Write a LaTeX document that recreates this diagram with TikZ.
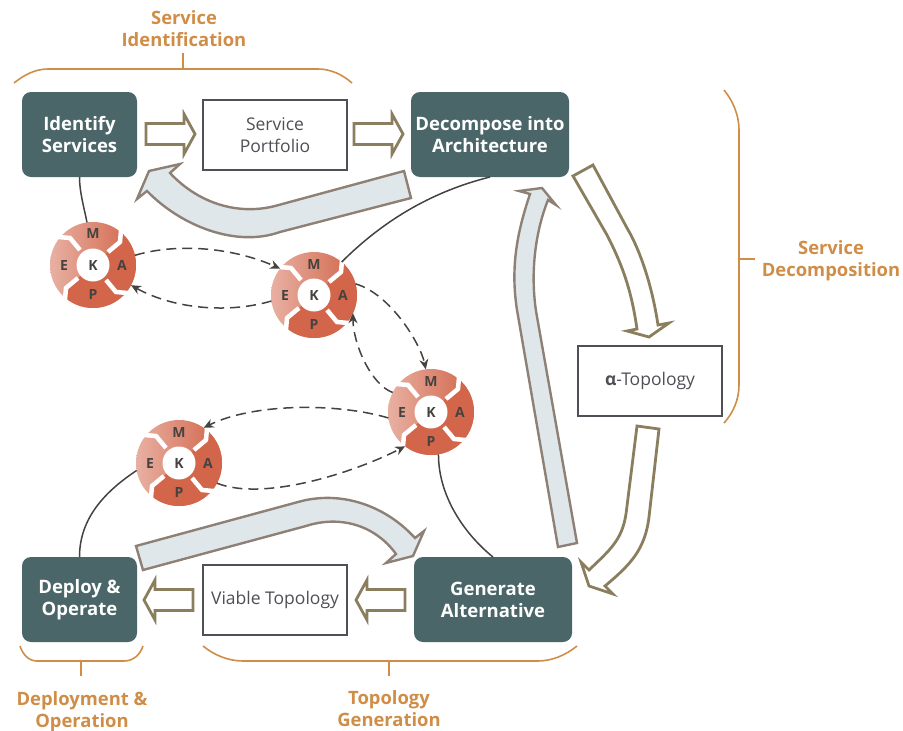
\documentclass[tikz,border=0pt]{standalone}
\usepackage{fontspec}
\setmainfont{Open Sans}
\definecolor{stepteal}{HTML}{4A6668}
\definecolor{bracketorange}{HTML}{D08D47}
\definecolor{arrowolive}{HTML}{8A7E5E}
\definecolor{arrowtaupe}{HTML}{8F8076}
\definecolor{arrowpale}{HTML}{E0E7EB}
\definecolor{loopred}{HTML}{D2654A}
\definecolor{looppink}{HTML}{E8B0A2}
\definecolor{inkdark}{HTML}{46423F}
\definecolor{inkgrey}{HTML}{4F5055}
\tikzset{
	stepbox/.style={fill=stepteal, rounded corners=9pt, minimum height=85, outer sep=0, inner sep=0, align=center, text=white, font=\fontsize{18.5}{22}\selectfont\bfseries},
	docbox/.style={draw=inkgrey, fill=white, line width=1.2pt, minimum width=144, minimum height=70, outer sep=0, inner sep=0, align=center, text=inkgrey, font=\fontsize{17.5}{22}\selectfont},
	phasetext/.style={text=bracketorange, align=center, inner sep=0, font=\fontsize{18.4}{22}\selectfont\bfseries},
	bracket/.style={draw=bracketorange, line width=1.6pt},
	hollow/.style={draw=arrowolive, fill=white, line width=2.8pt, line join=miter},
	pale/.style={draw=arrowtaupe, fill=arrowpale, line width=2.4pt, line join=miter},
	link/.style={draw=inkdark, line width=1.5pt},
	flow/.style={draw=inkdark, line width=1.5pt, dash pattern=on 10pt off 6pt, -{Stealth[length=10pt,width=9pt]}},
	loopdisc/.style={circle, minimum size=86, inner sep=0, outer sep=0, left color=looppink, right color=loopred},
	loopgap/.style={draw=white, line width=4.5pt},
	loopcore/.style={circle, fill=white, minimum size=33, inner sep=0, text=inkdark, font=\fontsize{14}{14}\selectfont\bfseries},
	loopletter/.style={inner sep=0, text=inkdark, font=\fontsize{14}{14}\selectfont\bfseries}
}
% one control loop, named #1, centred at (#2,#3)
\newcommand{\mapek}[3]{
	\node[loopdisc] (#1) at (#2,#3) {};
	\begin{scope}[shift={(#2,#3)}]
		\begin{scope}
			\clip (0,0) circle (43);
			\fill[loopred] (0,0) -- (15,-13) -- (27,-23) -- (29,-46) -- (60,-46) -- (60,60) -- (-29,60) -- (-29,46) -- (-27,23) -- (-15,13) -- cycle;
		\end{scope}
		\foreach \r in {0,90,180,270}
			\draw[loopgap, rotate=\r] (15,-13) -- (27,-23) -- (29,-46);
		\node[loopcore] (#1k) at (0,0) {K};
		\node[loopletter] (#1m) at (0,-31) {M};
		\node[loopletter] (#1e) at (-29,0) {E};
		\node[loopletter] (#1a) at (29,0) {A};
		\node[loopletter] (#1p) at (0,29) {P};
	\end{scope}
}
\usetikzlibrary{arrows.meta}

\begin{document}
\begin{tikzpicture}[x=1pt, y=-1pt]

	\useasboundingbox (0,0) rectangle (903,731);

	% steps and documents
	\node[stepbox, minimum width=115] (identify) at (79.5,134.5) {Identify\\Services};
	\node[stepbox, minimum width=158] (decompose) at (490,134.5) {Decompose into\\Architecture};
	\node[stepbox, minimum width=115] (deploy) at (79.5,599.5) {Deploy \&\\Operate};
	\node[stepbox, minimum width=158] (generate) at (493,599.5) {Generate\\Alternative};
	\node[docbox] (portfolio) at (275,135) {Service\\Portfolio};
	\node[docbox] (alpha) at (650,381) {{\bfseries α}-Topology};
	\node[docbox] (viable) at (275,600) {Viable Topology};

	% phases
	\draw[bracket] (14,83) .. controls (24,75) and (35,69) .. (48,69) -- (318,69) .. controls (331,69) and (343,75) .. (352,83);
	\draw[bracket] (183,53) -- (183,69);
	\node[phasetext] (phaseid) at (184,29) {Service\\Identification};
	\draw[bracket] (724,90) .. controls (733,101) and (739,115) .. (739,130) -- (739,385) .. controls (739,400) and (733,413) .. (724,423);
	\draw[bracket] (739,259) -- (755,259);
	\node[phasetext] (phasedec) at (831,261) {Service\\Decomposition};
	\draw[bracket] (20,646) .. controls (23,655) and (29,661) .. (37,661) -- (124,661) .. controls (133,661) and (140,655) .. (143,646);
	\draw[bracket] (81,661) -- (81,676);
	\node[phasetext] (phasedep) at (82,712) {Deployment \&\\Operation};
	\draw[bracket] (203,646) .. controls (214,655) and (228,661) .. (243,661) -- (538,661) .. controls (552,661) and (566,655) .. (577,646);
	\draw[bracket] (389,661) -- (389,676);
	\node[phasetext] (phasegen) at (389,709) {Topology\\Generation};

	% straight arrows
	\foreach \x/\y/\d in {146/134/1, 354/134/1, 193/600/-1, 405/600/-1}
		\draw[hollow, shift={(\x,\y)}, xscale=\d] (0,-10.5) -- (38,-10.5) -- (38,-20) -- (49,0) -- (38,20) -- (38,10.5) -- (0,10.5) -- cycle;

	% curved arrows
	\draw[pale] (404,171) -- (275,206) .. controls (240,215) and (200,205) .. (170,173) -- (180,164) -- (149,171) -- (137,199) -- (147,191) .. controls (180,225) and (235,248) .. (280,232) -- (411,198) -- cycle;
	\draw[pale] (558,547) -- (517,310) .. controls (510,265) and (518,230) .. (530,194) -- (519,191) -- (542,188) -- (556,205) -- (548,200) .. controls (536,230) and (530,270) .. (536,311) -- (577,543) -- cycle;
	\draw[pale] (136,546) -- (298,502) .. controls (340,490) and (385,505) .. (415,538) -- (424,531) -- (413,556) -- (386,563) -- (396,554) .. controls (375,525) and (340,515) .. (306,526) -- (143,570) -- cycle;
	\draw[hollow] (573,176) -- (593,165) -- (627,228) .. controls (640,250) and (652,285) .. (658,325) -- (669,323) -- (649,337) -- (627,331) -- (637,329) .. controls (632,295) and (625,270) .. (607,235) -- cycle;
	\draw[hollow] (637,426) -- (659,429) -- (649,517) .. controls (645,550) and (630,565) .. (605,586) -- (613,594) -- (589,586) -- (581,562) -- (589,570) .. controls (610,550) and (622,540) .. (626,514) -- cycle;

	% control loops
	\mapek{loopa}{93}{265}
	\mapek{loopb}{314}{295}
	\mapek{loopc}{431}{412}
	\mapek{loopd}{179}{463}

	% links from the steps to the loops
	\draw[link] (identify.south) .. controls +(0,15) and +(-3,-15) .. (loopa.98);
	\draw[link] (decompose.south) .. controls +(-60,15) and +(40,-40) .. (loopb.50);
	\draw[link] (loopc.280) .. controls +(0,45) and +(-25,-20) .. (generate.north);
	\draw[link] (loopd.190) .. controls +(-30,20) and +(0,-40) .. (deploy.north);

	% messages between the loops
	\draw[flow] (loopa.13) .. controls +(40,-12) and +(-50,-22) .. (loopb.142);
	\draw[flow] (loopb.188) .. controls +(-40,12) and +(45,25) .. (loopa.-28);
	\draw[flow] (loopb.15) .. controls +(35,10) and +(-5,-25) .. (loopc.97);
	\draw[flow] (loopc.153) .. controls +(-22,-8) and +(0,30) .. (loopb.-25);
	\draw[flow] (loopc.188) .. controls +(-50,-15) and +(50,-25) .. (loopd.55);
	\draw[flow] (loopd.-28) .. controls +(45,18) and +(-55,28) .. (loopc.233);

\end{tikzpicture}
\end{document}
